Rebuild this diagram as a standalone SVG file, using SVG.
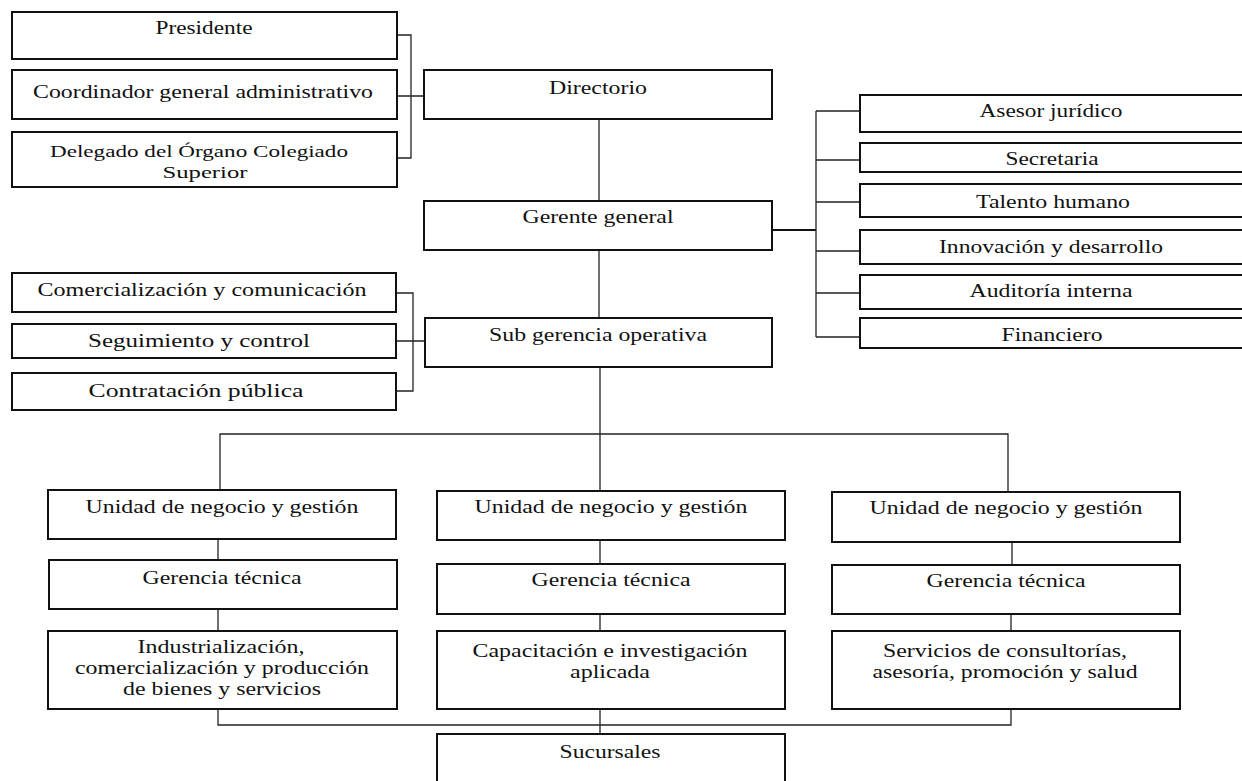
<svg xmlns="http://www.w3.org/2000/svg" width="1242" height="781" viewBox="0 0 1242 781">
<style>
.b{fill:#fff;stroke:#111;stroke-width:2}
.t{font-family:'Liberation Serif','Times New Roman',serif;font-size:18px;fill:#111;text-anchor:middle}
.c{fill:none;stroke:#222;stroke-width:1.3}
.k{fill:none;stroke:#111;stroke-width:2}
</style>
<rect width="1242" height="781" fill="#fff"/>
<g id="connectors">
<path class="c" d="M397 35H411V158H397M397 96H424"/>
<path class="c" d="M599 119V201M599 250V318M600 367V491"/>
<path class="k" d="M772 230H816"/>
<path class="c" d="M816 111V337M816 111H860M816 160H860M816 202H860M816 251H860M816 293H860M816 337H860"/>
<path class="c" d="M396 293H413V391H396M396 341H425"/>
<path class="c" d="M220 490V434H1008V492"/>
<path class="c" d="M218 539V560M218 609V631M600 540V564M600 614V631M1012 542V565M1011 614V631"/>
<path class="c" d="M218 709V725H1011V709M600 709V734"/>
</g>
<g id="presidente"><rect class="b" x="12" y="12" width="385" height="47"/><text class="t" x="204" y="34" textLength="97" lengthAdjust="spacingAndGlyphs">Presidente</text></g>
<g id="coordinador"><rect class="b" x="12" y="70" width="385" height="49"/><text class="t" x="203" y="98" textLength="340" lengthAdjust="spacingAndGlyphs">Coordinador general administrativo</text></g>
<g id="delegado"><rect class="b" x="12" y="132" width="385" height="55"/><text class="t" x="199" y="157" textLength="298" lengthAdjust="spacingAndGlyphs" style="font-size:17px">Delegado del Órgano Colegiado</text><text class="t" x="205" y="178" textLength="85" lengthAdjust="spacingAndGlyphs" style="font-size:17px">Superior</text></g>
<g id="directorio"><rect class="b" x="424" y="70" width="348" height="49"/><text class="t" x="598" y="94" textLength="98" lengthAdjust="spacingAndGlyphs">Directorio</text></g>
<g id="gerente"><rect class="b" x="424" y="201" width="348" height="49"/><text class="t" x="598" y="223" textLength="151" lengthAdjust="spacingAndGlyphs">Gerente general</text></g>
<g id="asesor"><rect class="b" x="860" y="95" width="392" height="37"/><text class="t" x="1051" y="117" textLength="143" lengthAdjust="spacingAndGlyphs">Asesor jurídico</text></g>
<g id="secretaria"><rect class="b" x="860" y="143" width="392" height="29"/><text class="t" x="1052" y="165" textLength="93" lengthAdjust="spacingAndGlyphs">Secretaria</text></g>
<g id="talento"><rect class="b" x="860" y="184" width="392" height="33"/><text class="t" x="1053" y="208" textLength="154" lengthAdjust="spacingAndGlyphs">Talento humano</text></g>
<g id="innovacion"><rect class="b" x="860" y="230" width="392" height="34"/><text class="t" x="1051" y="253" textLength="224" lengthAdjust="spacingAndGlyphs">Innovación y desarrollo</text></g>
<g id="auditoria"><rect class="b" x="860" y="275" width="392" height="34"/><text class="t" x="1051" y="297" textLength="163" lengthAdjust="spacingAndGlyphs">Auditoría interna</text></g>
<g id="financiero"><rect class="b" x="860" y="318" width="392" height="30"/><text class="t" x="1052" y="341" textLength="101" lengthAdjust="spacingAndGlyphs">Financiero</text></g>
<g id="comercializacion"><rect class="b" x="12" y="273" width="384" height="39"/><text class="t" x="202" y="296" textLength="329" lengthAdjust="spacingAndGlyphs">Comercialización y comunicación</text></g>
<g id="seguimiento"><rect class="b" x="12" y="324" width="384" height="34"/><text class="t" x="199" y="347" textLength="222" lengthAdjust="spacingAndGlyphs">Seguimiento y control</text></g>
<g id="contratacion"><rect class="b" x="12" y="373" width="384" height="37"/><text class="t" x="196" y="397" textLength="215" lengthAdjust="spacingAndGlyphs">Contratación pública</text></g>
<g id="subgerencia"><rect class="b" x="425" y="318" width="347" height="49"/><text class="t" x="598" y="341" textLength="218" lengthAdjust="spacingAndGlyphs">Sub gerencia operativa</text></g>
<g id="unidad1"><rect class="b" x="48" y="490" width="348" height="49"/><text class="t" x="222" y="513" textLength="273" lengthAdjust="spacingAndGlyphs">Unidad de negocio y gestión</text></g>
<g id="unidad2"><rect class="b" x="437" y="491" width="348" height="49"/><text class="t" x="611" y="513" textLength="273" lengthAdjust="spacingAndGlyphs">Unidad de negocio y gestión</text></g>
<g id="unidad3"><rect class="b" x="832" y="492" width="348" height="50"/><text class="t" x="1006" y="514" textLength="273" lengthAdjust="spacingAndGlyphs">Unidad de negocio y gestión</text></g>
<g id="gerencia1"><rect class="b" x="49" y="560" width="348" height="49"/><text class="t" x="222" y="584" textLength="159" lengthAdjust="spacingAndGlyphs">Gerencia técnica</text></g>
<g id="gerencia2"><rect class="b" x="437" y="564" width="348" height="50"/><text class="t" x="611" y="586" textLength="159" lengthAdjust="spacingAndGlyphs">Gerencia técnica</text></g>
<g id="gerencia3"><rect class="b" x="832" y="565" width="348" height="49"/><text class="t" x="1006" y="587" textLength="159" lengthAdjust="spacingAndGlyphs">Gerencia técnica</text></g>
<g id="industrializacion"><rect class="b" x="48" y="631" width="349" height="78"/><text class="t" x="221" y="653" textLength="167" lengthAdjust="spacingAndGlyphs">Industrialización,</text><text class="t" x="222" y="674" textLength="294" lengthAdjust="spacingAndGlyphs">comercialización y producción</text><text class="t" x="222" y="695" textLength="198" lengthAdjust="spacingAndGlyphs">de bienes y servicios</text></g>
<g id="capacitacion"><rect class="b" x="437" y="631" width="348" height="78"/><text class="t" x="610" y="657" textLength="275" lengthAdjust="spacingAndGlyphs">Capacitación e investigación</text><text class="t" x="610" y="678" textLength="80" lengthAdjust="spacingAndGlyphs">aplicada</text></g>
<g id="servicios"><rect class="b" x="832" y="631" width="348" height="78"/><text class="t" x="1005" y="657" textLength="244" lengthAdjust="spacingAndGlyphs">Servicios de consultorías,</text><text class="t" x="1005" y="678" textLength="265" lengthAdjust="spacingAndGlyphs">asesoría, promoción y salud</text></g>
<g id="sucursales"><rect class="b" x="437" y="734" width="348" height="60"/><text class="t" x="610" y="758" textLength="101" lengthAdjust="spacingAndGlyphs">Sucursales</text></g>
</svg>
